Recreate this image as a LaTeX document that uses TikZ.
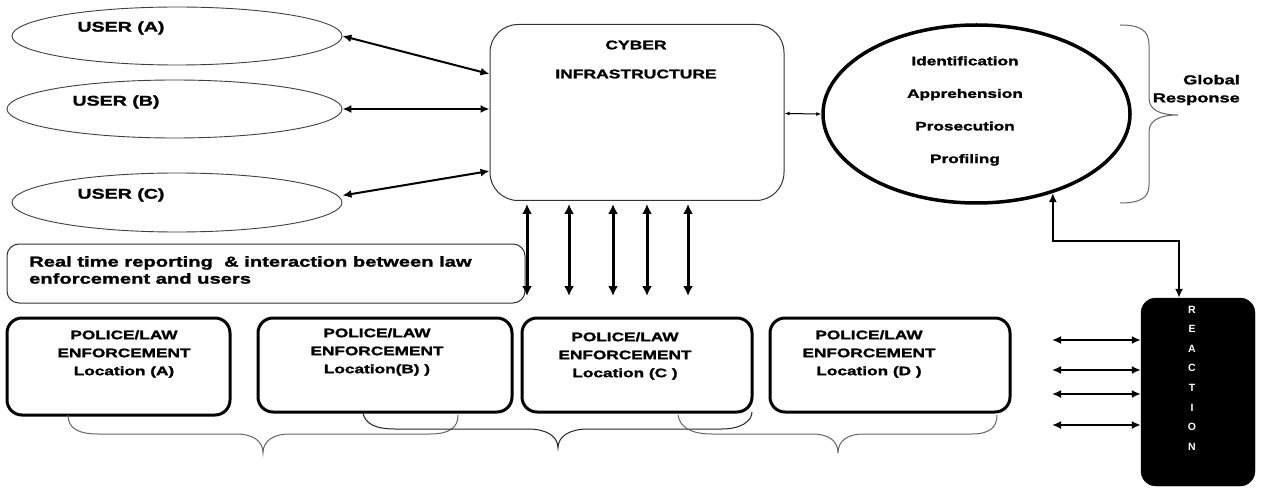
\documentclass[tikz,border=0pt]{standalone}
\usepackage{fontspec}
\setmainfont{Liberation Sans}[FakeStretch=1.4, BoldFeatures={FakeBold=1.6}]
\newfontfamily\reactfont{Liberation Sans}
\usetikzlibrary{shapes.geometric,arrows.meta}
\begin{document}
\begin{tikzpicture}[x=1pt,y=-1pt,
  usr/.style={ellipse, draw=black!75, line width=0.9pt, minimum width=330pt, minimum height=58pt, inner sep=0pt},
  lbl/.style={inner sep=0pt, font=\bfseries\fontsize{14}{16}\selectfont},
  pol/.style={draw, line width=3pt, rounded corners=15pt, minimum height=94pt, inner sep=0pt},
  poltxt/.style={inner sep=0pt, align=center, font=\bfseries\fontsize{12.3}{18}\selectfont},
  dbl/.style={{Latex[length=9pt,width=8pt]}-{Latex[length=9pt,width=8pt]}, line width=2pt},
  vdbl/.style={{Latex[length=10pt,width=10pt]}-{Latex[length=10pt,width=10pt]}, line width=3pt, shorten <=3pt},
  brc/.style={draw=black!60, line width=1pt},
]
\useasboundingbox[fill=white] (0,0) rectangle (1263,489);

% users
\node[usr] (uA) at (177,36) {};
\node[usr, minimum width=335pt] (uB) at (174.5,109) {};
\node[usr, minimum height=59pt] (uC) at (177,202.5) {};
\node[lbl] (tA) at (121,28) {USER (A)};
\node[lbl] (tB) at (116,102) {USER (B)};
\node[lbl] (tC) at (121,195) {USER (C)};

% cyber infrastructure
\node[draw=black!80, line width=1pt, rounded corners=28pt, minimum width=294pt, minimum height=176pt, inner sep=0pt] (cyb) at (637,112.5) {};
\node[inner sep=0pt, align=center, font=\bfseries\fontsize{12.5}{29}\selectfont] (cybt) at (636,59.5) {CYBER\\INFRASTRUCTURE};

% response ellipse
\node[ellipse, draw, line width=3.5pt, minimum width=307pt, minimum height=178pt, inner sep=0pt] (circ) at (976.5,114) {};
\node[inner sep=0pt, align=center, font=\bfseries\fontsize{12.3}{32.6}\selectfont] (ct) at (965,111) {Identification\\Apprehension\\Prosecution\\Profiling};

% right brace
\draw[brc] (1120,25) .. controls (1140,25) and (1149,30) .. (1149,45) -- (1149,98) .. controls (1149,110) and (1160,115) .. (1178,115) .. controls (1160,115) and (1149,120) .. (1149,132) -- (1149,185) .. controls (1149,198) and (1140,203) .. (1120,203);
\node[inner sep=0pt, align=right, anchor=east, font=\bfseries\fontsize{13}{18}\selectfont] (gr) at (1240,90) {Global\\Response};

% arrows users <-> cyber
\draw[dbl] (uA.east) -- ([yshift=38.5pt]cyb.west);
\draw[dbl] (uB.east) -- ([yshift=3.5pt]cyb.west);
\draw[dbl] ([yshift=7pt]uC.east) -- ([yshift=-58.5pt]cyb.west);
\draw[{Latex[length=5pt,width=4pt]}-{Latex[length=5pt,width=4pt]}, line width=1pt] ([yshift=-1pt]cyb.east) -- (circ.west);

% real time box
\node[draw=black!80, line width=1pt, rounded corners=12pt, minimum width=518pt, minimum height=59pt, inner sep=0pt] (rt) at (266,273.5) {};
\node[inner sep=0pt, anchor=west, align=left, font=\bfseries\fontsize{14.4}{17}\selectfont] (rtt) at (29,270) {Real time reporting\ \ \& interaction between law\\enforcement and users};

% vertical arrows
\coordinate (v1) at (527,296);
\coordinate (v2) at (569,296);
\coordinate (v3) at (613,296);
\coordinate (v4) at (647,296);
\coordinate (v5) at (688,296);
\draw[vdbl] ([xshift=-110pt]cyb.south) -- (v1);
\draw[vdbl] ([xshift=-68pt]cyb.south) -- (v2);
\draw[vdbl] ([xshift=-24pt]cyb.south) -- (v3);
\draw[vdbl] ([xshift=10pt]cyb.south) -- (v4);
\draw[vdbl] ([xshift=51pt]cyb.south) -- (v5);

% police boxes
\node[pol, minimum width=223pt, minimum height=97pt] (pA) at (118.5,366.5) {};
\node[pol, minimum width=254pt] (pB) at (385,365) {};
\node[pol, minimum width=230pt] (pC) at (637,365) {};
\node[pol, minimum width=240pt] (pD) at (890,365) {};
\node[poltxt] (pAt) at (124,354) {POLICE/LAW\\ENFORCEMENT\\Location (A)};
\node[poltxt] (pBt) at (377,352) {POLICE/LAW\\ENFORCEMENT\\Location(B) )};
\node[poltxt] (pCt) at (625,356) {POLICE/LAW\\ENFORCEMENT\\Location (C )};
\node[poltxt] (pDt) at (869,354) {POLICE/LAW\\ENFORCEMENT\\Location (D )};

% bottom braces
\draw[brc] (68,415) .. controls (68,428) and (78,434) .. (98,434) -- (236,434) .. controls (253,434) and (263,441) .. (263,453) .. controls (263,441) and (273,434) .. (290,434) -- (430,434) .. controls (449,434) and (458,428) .. (458,415);
\draw[draw=black!85, line width=1pt] (363,413) .. controls (365,424) and (376,429) .. (395,429) -- (528,429) .. controls (546,429) and (558,436) .. (558,448) .. controls (558,436) and (570,429) .. (588,429) -- (722,429) .. controls (741,429) and (752,421) .. (752,412);
\draw[brc] (678,415) .. controls (680,428) and (692,434) .. (712,434) -- (812,434) .. controls (829,434) and (838,441) .. (838,453) .. controls (838,441) and (847,434) .. (864,434) -- (972,434) .. controls (990,434) and (997,427) .. (997,415);

% reaction
\node[fill=black, draw=black, rounded corners=15pt, minimum width=114pt, minimum height=188pt, inner sep=0pt] (rx) at (1198,392) {};
\node[inner sep=0pt, align=center, text=white, font=\reactfont\bfseries\fontsize{10.5}{19.6}\selectfont] (rxt) at (1192,378) {R\\E\\A\\C\\T\\I\\O\\N};
\draw[{Latex[length=9pt,width=8pt]}-{Latex[length=9pt,width=8pt]}, line width=2.5pt] (circ.-46) -- ++(0,48) -| ([xshift=-19pt]rx.north);

\coordinate (h1) at (1052,340);
\coordinate (h2) at (1052,370);
\coordinate (h3) at (1052,394);
\coordinate (h4) at (1052,425);
\draw[dbl] (h1) -- ([yshift=52pt]rx.west);
\draw[dbl] (h2) -- ([yshift=22pt]rx.west);
\draw[dbl] (h3) -- ([yshift=-2pt]rx.west);
\draw[dbl] (h4) -- ([yshift=-33pt]rx.west);
\end{tikzpicture}
\end{document}
